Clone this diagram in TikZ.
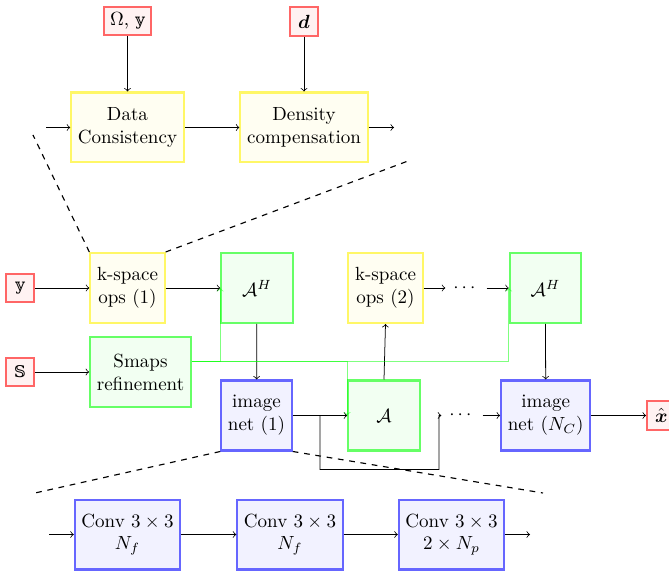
\documentclass[tikz,border=0pt]{standalone}
\usepackage{amsmath}
\usepackage{fontspec}
\newfontfamily\dsfont[Scale=0.85]{DejaVu Serif}
\newcommand{\bby}{{\dsfont 𝕪}}
\newcommand{\bbS}{{\dsfont 𝕊}}
\usetikzlibrary{calc}
\tikzset{
  blk/.style={draw, line width=1.1pt, align=center, minimum height=36.7pt, inner sep=3.5pt},
  redbox/.style={draw=red!60, fill=red!5, line width=1.1pt, minimum size=15pt, inner sep=3pt},
  ylwbox/.style={blk, draw=yellow!60, fill=yellow!5},
  grnbox/.style={blk, draw=green!60, fill=green!5, minimum width=37.5pt},
  blubox/.style={blk, draw=blue!60, fill=blue!5, minimum width=37pt},
  smapline/.style={->, green, opacity=0.5},
  zoomline/.style={dashed, semithick},
  dotsnode/.style={inner sep=4pt}
}

\begin{document}
\begin{tikzpicture}[x=0.525pt,y=-0.525pt]
\useasboundingbox (0,0) rectangle (669,571);

% top: inside one k-space op
\node[redbox] (om) at (127.5,21) {$\Omega$, \bby};
\node[redbox] (dd) at (304,21.5) {$\boldsymbol{d}$};
\node[ylwbox] (dc) at (127.5,127.5) {Data\\Consistency};
\node[ylwbox] (dcomp) at (304,127.5) {Density\\compensation};
\coordinate (tin) at (46,127.5);
\coordinate (tout) at (394,127.5);
\draw[->] (om) -- (dc);
\draw[->] (dd) -- (dcomp);
\draw[->] (tin) -- (dc);
\draw[->] (dc) -- (dcomp);
\draw[->] (dcomp) -- (tout);

% main chain
\node[redbox] (yy) at (20,288) {\bby};
\node[redbox] (ss) at (20,372) {\bbS};
\node[ylwbox] (ksp1) at (127.5,288) {k-space\\ops (1)};
\node[grnbox] (ah1) at (257,288) {$\mathcal{A}^H$};
\node[grnbox] (smaps) at (140.5,372) {Smaps\\refinement};
\node[blubox] (net1) at (256.5,415.5) {image\\net (1)};
\node[grnbox] (aop) at (384,415.5) {$\mathcal{A}$};
\node[ylwbox] (ksp2) at (385.5,288) {k-space\\ops (2)};
\node[dotsnode] (dots1) at (466,288) {$\cdots$};
\node[grnbox] (ah2) at (545.5,288) {$\mathcal{A}^H$};
\node[dotsnode] (dots2) at (462,415.5) {$\cdots$};
\node[blubox] (netN) at (545.7,415.5) {image\\net ($N_C$)};
\node[redbox, anchor=west] (xhat) at (646,415.5) {$\hat{\boldsymbol{x}}$};

\draw[->] (yy) -- (ksp1);
\draw[->] (ss) -- (smaps);
\draw[->] (ksp1) -- (ah1);
\draw[->] (ah1) -- (net1);
\draw[->] (net1) -- (aop);
\draw[->] (aop.north) -- (ksp2.south);
\draw[->] (ksp2) -- (dots1);
\draw[->] (dots1) -- (ah2);
\draw[->] (ah2) -- (netN);
\draw[->] (dots2) -- (netN);
\draw[->] (netN) -- (xhat);
\coordinate (br) at ($(net1.east)!0.5!(aop.west)$);
\draw[->] (br) -- ++(0,54) -| ++(119,-54) -- (dots2.west);

% sensitivity maps
\coordinate (sm) at ($(smaps.east)+(0,-11)$);
\draw[smapline] (sm) -| (ah1.west);
\draw[smapline] (sm) -| (aop.west);
\draw[smapline] (sm) -| (ah2.west);

% bottom: inside one image net
\coordinate (cin) at (49,534.5);
\node[blubox] (conv1) at (127.5,534.5) {Conv $3\times3$\\$N_f$};
\node[blubox] (conv2) at (290,534.5) {Conv $3\times3$\\$N_f$};
\node[blubox] (conv3) at (451.5,534.5) {Conv $3\times3$\\$2\times N_p$};
\coordinate (cout) at (530,534.5);
\draw[->] (cin) -- (conv1);
\draw[->] (conv1) -- (conv2);
\draw[->] (conv2) -- (conv3);
\draw[->] (conv3) -- (cout);

% zoom lines
\coordinate (z1) at (33,135);
\coordinate (z2) at (408,161);
\coordinate (z3) at (35,493);
\coordinate (z4) at (543,493);
\draw[zoomline] (ksp1.north west) -- (z1);
\draw[zoomline] (ksp1.north east) -- (z2);
\draw[zoomline] (net1.south west) -- (z3);
\draw[zoomline] (net1.south east) -- (z4);
\end{tikzpicture}
\end{document}
